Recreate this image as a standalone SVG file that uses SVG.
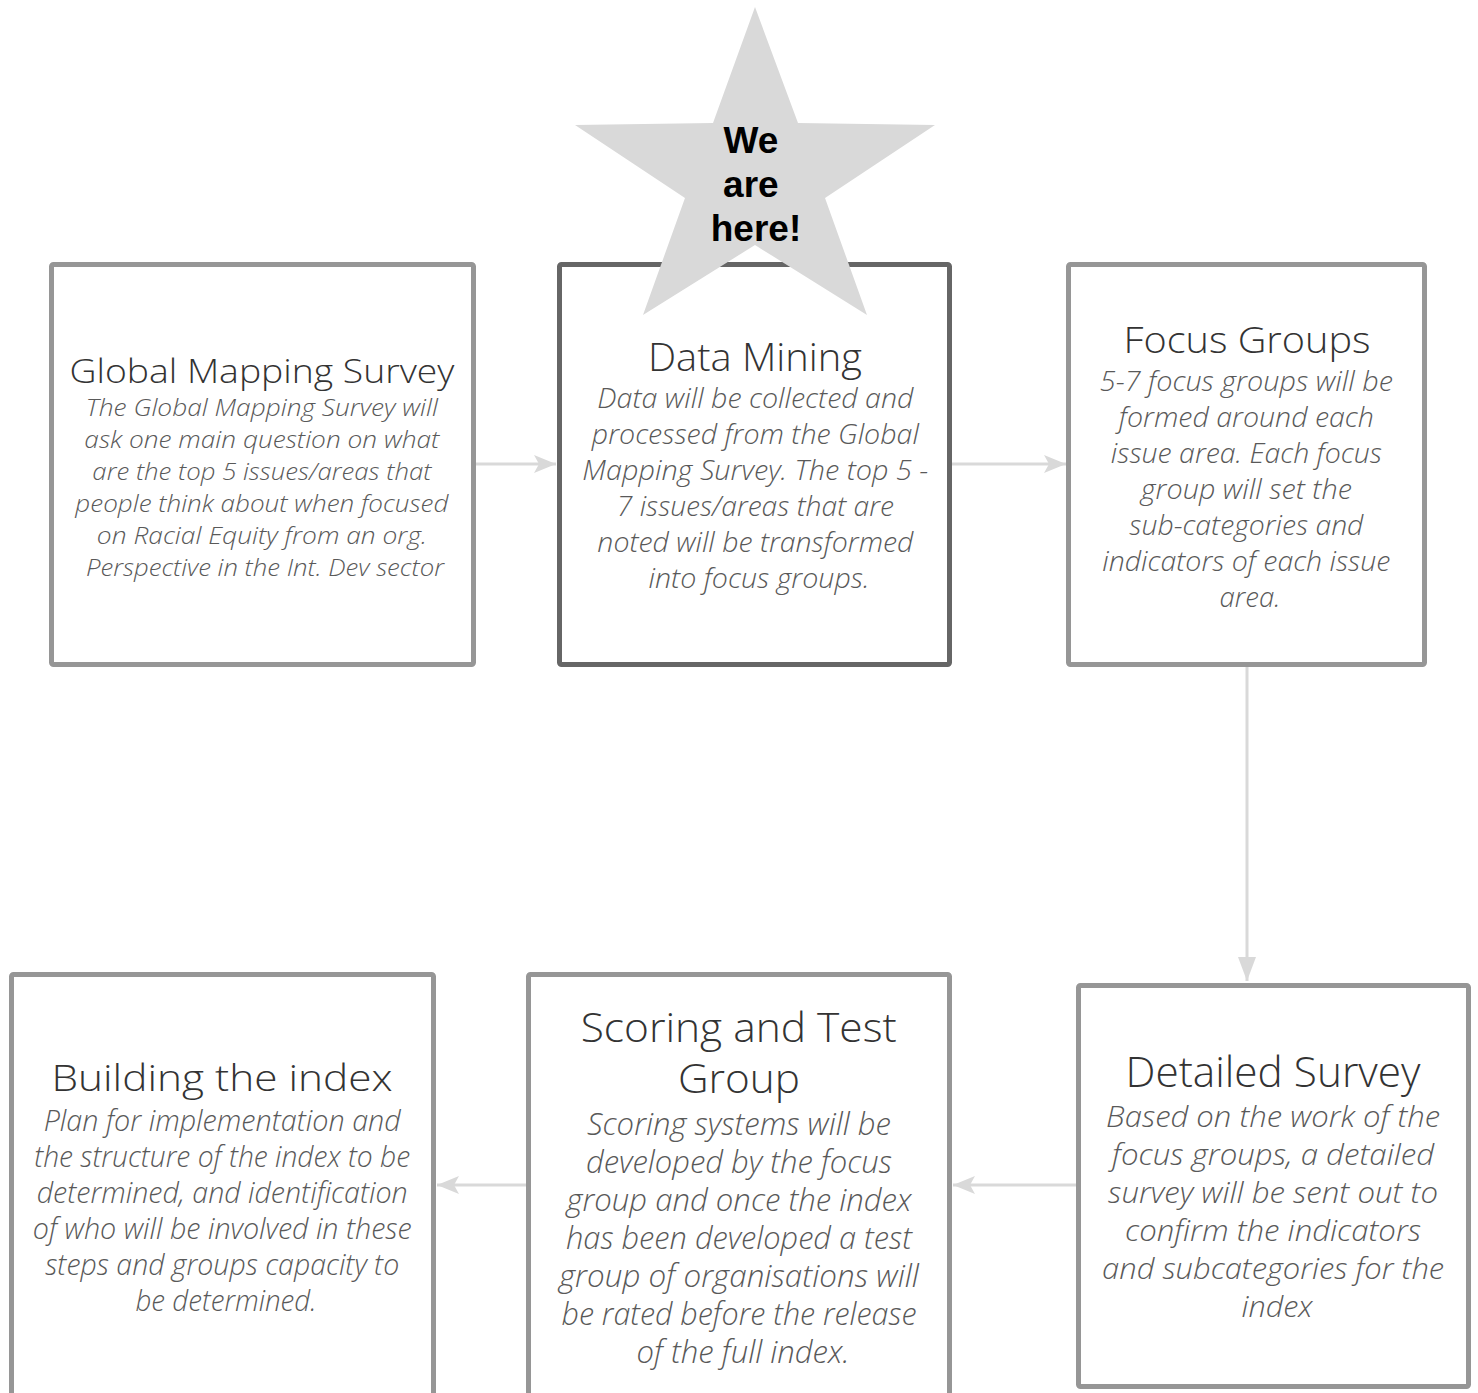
<svg xmlns="http://www.w3.org/2000/svg" width="1478" height="1393" viewBox="0 0 1478 1393">
<style>
.box{fill:#ffffff;stroke:#969696;stroke-width:5}
.dark{stroke:#666666}
.t{font-family:"Open Sans","Liberation Sans",sans-serif;font-weight:300;fill:#333333;text-anchor:middle}
.b{font-family:"Open Sans","Liberation Sans",sans-serif;font-weight:300;font-style:italic;fill:#595959;text-anchor:middle}
.conn{fill:none;stroke:#d9d9d9;stroke-width:3}
.star{fill:#d9d9d9}
.st{font-family:"Liberation Sans",Arial,sans-serif;font-weight:bold;font-size:37px;fill:#000000;text-anchor:middle}
</style>
<defs>
<marker id="ah" markerUnits="userSpaceOnUse" viewBox="0 0 22 18" refX="22" refY="9" markerWidth="22" markerHeight="18" orient="auto">
<path d="M0,0 L22,9 L0,18 L5,9 z" fill="#d9d9d9"/>
</marker>
<marker id="ahv" markerUnits="userSpaceOnUse" viewBox="0 0 18 24" refX="9" refY="24" markerWidth="18" markerHeight="24" orient="0">
<path d="M0,0 L18,0 L9,24 z" fill="#d9d9d9"/>
</marker>
</defs>
<rect width="1478" height="1393" fill="#ffffff"/>
<g id="connectors">
<line class="conn" x1="476" y1="464" x2="556" y2="464" marker-end="url(#ah)"/>
<line class="conn" x1="952" y1="464" x2="1066" y2="464" marker-end="url(#ah)"/>
<line class="conn" x1="1247" y1="667" x2="1247" y2="981" marker-end="url(#ahv)"/>
<line class="conn" x1="1076" y1="1185" x2="953" y2="1185" marker-end="url(#ah)"/>
<line class="conn" x1="526" y1="1185" x2="437" y2="1185" marker-end="url(#ah)"/>
</g>
<g id="global-mapping-survey">
<rect class="box" x="51.5" y="264.5" width="422" height="400" rx="2"/>
<text class="t" x="262" y="383" font-size="33" textLength="385" lengthAdjust="spacingAndGlyphs">Global Mapping Survey</text>
<text class="b" font-size="24" transform="translate(3 0)">
<tspan x="262" y="416" textLength="352" lengthAdjust="spacingAndGlyphs">The Global Mapping Survey will</tspan>
<tspan x="262" y="448" textLength="355" lengthAdjust="spacingAndGlyphs">ask one main question on what</tspan>
<tspan x="262" y="480" textLength="339" lengthAdjust="spacingAndGlyphs">are the top 5 issues/areas that</tspan>
<tspan x="262" y="512" textLength="373" lengthAdjust="spacingAndGlyphs">people think about when focused</tspan>
<tspan x="262" y="544" textLength="330" lengthAdjust="spacingAndGlyphs">on Racial Equity from an org.</tspan>
<tspan x="262" y="576" textLength="358" lengthAdjust="spacingAndGlyphs">Perspective in the Int. Dev sector</tspan>
</text>
</g>
<g id="data-mining">
<rect class="box dark" x="559.5" y="264.5" width="390" height="400" rx="2"/>
<text class="t" x="755" y="371" font-size="38" textLength="214" lengthAdjust="spacingAndGlyphs">Data Mining</text>
<text class="b" font-size="28" transform="translate(4 0)">
<tspan x="755" y="408" textLength="316" lengthAdjust="spacingAndGlyphs">Data will be collected and</tspan>
<tspan x="755" y="444" textLength="327" lengthAdjust="spacingAndGlyphs">processed from the Global</tspan>
<tspan x="755" y="480" textLength="346" lengthAdjust="spacingAndGlyphs">Mapping Survey. The top 5 -</tspan>
<tspan x="755" y="516" textLength="277" lengthAdjust="spacingAndGlyphs">7 issues/areas that are</tspan>
<tspan x="755" y="552" textLength="316" lengthAdjust="spacingAndGlyphs">noted will be transformed</tspan>
<tspan x="755" y="588" textLength="221" lengthAdjust="spacingAndGlyphs">into focus groups.</tspan>
</text>
</g>
<g id="focus-groups">
<rect class="box" x="1068.5" y="264.5" width="356" height="400" rx="2"/>
<text class="t" x="1247" y="353" font-size="37" textLength="247" lengthAdjust="spacingAndGlyphs">Focus Groups</text>
<text class="b" font-size="28" transform="translate(3 0)">
<tspan x="1247" y="391" textLength="293" lengthAdjust="spacingAndGlyphs">5-7 focus groups will be</tspan>
<tspan x="1247" y="427" textLength="255" lengthAdjust="spacingAndGlyphs">formed around each</tspan>
<tspan x="1247" y="463" textLength="271" lengthAdjust="spacingAndGlyphs">issue area. Each focus</tspan>
<tspan x="1247" y="499" textLength="211" lengthAdjust="spacingAndGlyphs">group will set the</tspan>
<tspan x="1247" y="535" textLength="234" lengthAdjust="spacingAndGlyphs">sub-categories and</tspan>
<tspan x="1247" y="571" textLength="288" lengthAdjust="spacingAndGlyphs">indicators of each issue</tspan>
<tspan x="1247" y="607" textLength="61" lengthAdjust="spacingAndGlyphs">area.</tspan>
</text>
</g>
<g id="detailed-survey">
<rect class="box" x="1078.5" y="985.5" width="390" height="401" rx="2"/>
<text class="t" x="1273" y="1087" font-size="42" textLength="295" lengthAdjust="spacingAndGlyphs">Detailed Survey</text>
<text class="b" font-size="30" transform="translate(4 0)">
<tspan x="1273" y="1127" textLength="334" lengthAdjust="spacingAndGlyphs">Based on the work of the</tspan>
<tspan x="1273" y="1165" textLength="322" lengthAdjust="spacingAndGlyphs">focus groups, a detailed</tspan>
<tspan x="1273" y="1203" textLength="330" lengthAdjust="spacingAndGlyphs">survey will be sent out to</tspan>
<tspan x="1273" y="1241" textLength="296" lengthAdjust="spacingAndGlyphs">confirm the indicators</tspan>
<tspan x="1273" y="1279" textLength="342" lengthAdjust="spacingAndGlyphs">and subcategories for the</tspan>
<tspan x="1273" y="1317" textLength="71" lengthAdjust="spacingAndGlyphs">index</tspan>
</text>
</g>
<g id="scoring-and-test-group">
<rect class="box" x="528.5" y="974.5" width="421" height="440" rx="2"/>
<text class="t" font-size="41">
<tspan x="744" y="1042" textLength="316" lengthAdjust="spacingAndGlyphs">Scoring and Test</tspan>
<tspan x="739" y="1093" textLength="122" lengthAdjust="spacingAndGlyphs">Group</tspan>
</text>
<text class="b" font-size="31" transform="translate(4 0)">
<tspan x="739" y="1135" textLength="304" lengthAdjust="spacingAndGlyphs">Scoring systems will be</tspan>
<tspan x="739" y="1173" textLength="306" lengthAdjust="spacingAndGlyphs">developed by the focus</tspan>
<tspan x="739" y="1211" textLength="345" lengthAdjust="spacingAndGlyphs">group and once the index</tspan>
<tspan x="739" y="1249" textLength="346" lengthAdjust="spacingAndGlyphs">has been developed a test</tspan>
<tspan x="739" y="1287" textLength="360" lengthAdjust="spacingAndGlyphs">group of organisations will</tspan>
<tspan x="739" y="1325" textLength="355" lengthAdjust="spacingAndGlyphs">be rated before the release</tspan>
<tspan x="739" y="1363" textLength="213" lengthAdjust="spacingAndGlyphs">of the full index.</tspan>
</text>
</g>
<g id="building-the-index">
<rect class="box" x="11.5" y="974.5" width="422" height="440" rx="2"/>
<text class="t" x="222" y="1091" font-size="37" textLength="341" lengthAdjust="spacingAndGlyphs">Building the index</text>
<text class="b" font-size="29" transform="translate(4 0)">
<tspan x="222" y="1131" textLength="357" lengthAdjust="spacingAndGlyphs">Plan for implementation and</tspan>
<tspan x="222" y="1167" textLength="376" lengthAdjust="spacingAndGlyphs">the structure of the index to be</tspan>
<tspan x="222" y="1203" textLength="371" lengthAdjust="spacingAndGlyphs">determined, and identification</tspan>
<tspan x="222" y="1239" textLength="379" lengthAdjust="spacingAndGlyphs">of who will be involved in these</tspan>
<tspan x="222" y="1275" textLength="354" lengthAdjust="spacingAndGlyphs">steps and groups capacity to</tspan>
<tspan x="222" y="1311" textLength="181" lengthAdjust="spacingAndGlyphs">be determined.</tspan>
</text>
</g>
<g id="we-are-here">
<polygon class="star" points="755,7 798,123 935,125 825,198 867,315 755,245 643,315 685,198 575,125 713,123"/>
<text class="st">
<tspan x="756" y="153">We</tspan>
<tspan x="756" y="197">are</tspan>
<tspan x="756" y="241">here!</tspan>
</text>
</g>
</svg>
